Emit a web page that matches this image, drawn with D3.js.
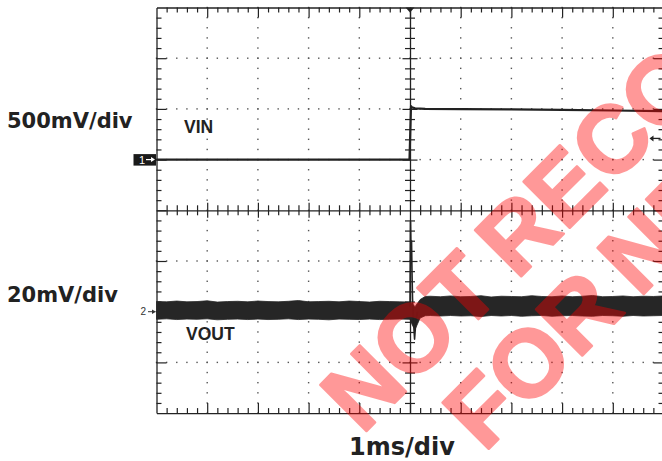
<!DOCTYPE html>
<html>
<head>
<meta charset="utf-8">
<script src="https://cdn.jsdelivr.net/npm/d3@7"></script>
<style>
html,body{margin:0;padding:0;background:#fff;overflow:hidden;}
svg{display:block;}
</style>
</head>
<body>
<svg id="chart" width="662" height="461"></svg>
<script>
// ---------- DATA ----------
// Time base: ms relative to trigger (1 ms/div, 10 divisions)
const timeDomain = [-5, 5];
// CH1 (VIN) in mV relative to channel-1 marker, 500 mV/div
const vinT = [-5, -0.02, -0.01, 0.02, 0.04, 0.1, 0.3, 1, 2, 3, 4, 5];
const vinV = [0, 0, 0, 528, 515, 506, 501, 498, 495, 490, 484, 478];
// CH2 (VOUT) noise envelope in mV relative to channel-2 marker, 20 mV/div
const voutT = [-5.0,-4.8,-4.6,-4.4,-4.2,-4.0,-3.8,-3.6,-3.4,-3.2,-3.0,-2.8,-2.6,-2.4,-2.2,-2.0,-1.8,-1.6,-1.4,-1.2,-1.0,-0.8,-0.6,-0.4,-0.2,
  0, 0.05, 0.1, 0.2, 0.3,
  0.4,0.6,0.8,1.0,1.2,1.4,1.6,1.8,2.0,2.2,2.4,2.6,2.8,3.0,3.2,3.4,3.6,3.8,4.0,4.2,4.4,4.6,4.8,5.0];
const voutTop = [4.0,3.9,4.2,3.9,4.0,4.3,3.8,4.0,4.1,3.9,4.2,4.0,3.9,4.1,4.4,3.9,4.0,4.1,3.9,4.2,4.0,3.8,4.1,4.0,3.9,
  3.8, 3.0, 2.0, 4.8, 6.0,
  6.1,5.9,6.2,5.9,6.0,6.3,5.8,6.1,6.0,5.9,6.3,6.0,5.9,6.2,5.9,6.1,6.4,5.9,6.0,6.2,5.9,6.1,6.0,6.2];
const voutBottom = [-3.0,-2.8,-3.1,-2.9,-3.0,-2.8,-3.2,-3.0,-2.9,-3.1,-2.9,-3.1,-3.0,-2.8,-3.1,-2.9,-3.0,-3.2,-2.9,-3.0,-3.1,-2.9,-3.1,-3.0,-2.9,
  -3.0, -5.5, -7.0, -2.5, -1.6,
  -1.5,-1.7,-1.5,-1.7,-1.6,-1.9,-1.5,-1.7,-1.5,-1.8,-1.6,-1.5,-1.8,-1.6,-1.5,-1.7,-1.8,-1.5,-1.6,-1.8,-1.5,-1.7,-1.6,-1.5];
// CH2 load-step transient
const spikeT = [0, 0.01, 0.02, 0.03, 0.04, 0.05, 0.07, 0.09, 0.1, 0.12, 0.15];
const spikeV = [2, 35.5, 24, 28, 15, 5, -4, -10.8, -8, -3, 0];
// Labels
const scaleLabels = ["500mV/div", "20mV/div"];
const timeLabel = "1ms/div";
const traceLabels = ["VIN", "VOUT"];
const watermark = ["NOT RECOMMENDED", "FOR NEW DESIGNS"];
const trigLevel = 209; // mV, CH1 trigger level

// ---------- LAYOUT ----------
const svg = d3.select("#chart");
const L = 156.5, T = 7.5, DIV = 50.7;
const R = L + 10 * DIV, B = T + 8 * DIV;
const cx = L + 5 * DIV, cy = T + 4 * DIV;
const ink = "#222";

const x = d3.scaleLinear().domain(timeDomain).range([L, R]);
const y1 = d3.scaleLinear().domain([-2500, 1500]).range([B, T]);
const y2 = d3.scaleLinear().domain([-40, 120]).range([B, T]);
const gx = d3.scaleLinear().domain([-5, 5]).range([L, R]);
const gy = d3.scaleLinear().domain([-4, 4]).range([B, T]);

const xMinor = d3.range(-25, 26).map(i => i / 5);
const yMinor = d3.range(-20, 21).map(i => i / 5);
const xMajor = d3.range(-4, 5).filter(v => v !== 0);
const yMajor = d3.range(-3, 4).filter(v => v !== 0);

// dotted grid
const dots = svg.append("g").attr("fill", "#555");
xMajor.forEach(gv => {
  yMinor.forEach(yv => {
    dots.append("rect").attr("x", gx(gv) - 0.7).attr("y", gy(yv) - 0.7).attr("width", 1.4).attr("height", 1.4);
  });
});
yMajor.forEach(gv => {
  xMinor.forEach(xv => {
    dots.append("rect").attr("x", gx(xv) - 0.7).attr("y", gy(gv) - 0.7).attr("width", 1.4).attr("height", 1.4);
  });
});

function styleAxis(g) {
  g.select(".domain").attr("stroke", ink).attr("stroke-width", 1.3);
  g.selectAll(".tick line").attr("stroke", ink).attr("stroke-width", 1.2);
  g.selectAll(".tick text").remove();
}
function isMajor(v) { return Math.abs(v - Math.round(v)) < 1e-6; }

const xTicks = xMinor.filter(v => v > -5 && v < 5);
const yTicks = yMinor.filter(v => v > -4 && v < 4);

function borderX(pos, dir) {
  const g = svg.append("g").attr("transform", `translate(0,${pos})`);
  const ax = (dir === "top" ? d3.axisTop(gx) : d3.axisBottom(gx)).tickValues(xTicks).tickSizeOuter(0).tickFormat("");
  g.call(ax);
  g.selectAll(".tick line").attr("y2", d => (dir === "top" ? 1 : -1) * (isMajor(d) ? 10 : 5));
  styleAxis(g);
}
function borderY(pos, dir) {
  const g = svg.append("g").attr("transform", `translate(${pos},0)`);
  const ax = (dir === "left" ? d3.axisLeft(gy) : d3.axisRight(gy)).tickValues(yTicks).tickSizeOuter(0).tickFormat("");
  g.call(ax);
  g.selectAll(".tick line").attr("x2", d => (dir === "left" ? 1 : -1) * (isMajor(d) ? 10 : 5));
  styleAxis(g);
}
borderX(T, "top");
borderX(B, "bottom");
borderY(L, "left");
borderY(R, "right");

function centerX() {
  const g = svg.append("g").attr("transform", `translate(0,${cy})`);
  g.call(d3.axisBottom(gx).tickValues(xTicks.filter(v => v !== 0)).tickSizeOuter(0).tickFormat(""));
  g.selectAll(".tick line").attr("y1", d => -(isMajor(d) ? 7.5 : 5)).attr("y2", d => (isMajor(d) ? 7.5 : 5));
  styleAxis(g);
}
function centerY() {
  const g = svg.append("g").attr("transform", `translate(${cx},0)`);
  g.call(d3.axisLeft(gy).tickValues(yTicks.filter(v => v !== 0)).tickSizeOuter(0).tickFormat(""));
  g.selectAll(".tick line").attr("x1", d => -(isMajor(d) ? 7.5 : 5)).attr("x2", d => (isMajor(d) ? 7.5 : 5));
  styleAxis(g);
}
centerX();
centerY();

// Trigger position marker (top)
svg.append("path")
  .attr("d", `M${x(0) - 4.5},${T} L${x(0) + 4.5},${T} L${x(0)},${T + 5} Z`)
  .attr("fill", ink);

// Trigger level arrow (right)
const ty = y1(trigLevel);
svg.append("path").attr("d", `M${R - 3},${ty} L${R - 13},${ty}`).attr("stroke", ink).attr("stroke-width", 1.3);
svg.append("path").attr("d", `M${R - 14},${ty} L${R - 10},${ty - 3} L${R - 10},${ty + 3} Z`).attr("fill", ink);

// CH1 marker
const m1 = y1(0);
svg.append("rect").attr("x", 133.5).attr("y", m1 - 5.5).attr("width", 22.5).attr("height", 11.5).attr("fill", "#1a1a1a");
svg.append("text").attr("x", 139).attr("y", m1 + 4).attr("fill", "#fff")
  .attr("font-family", "Liberation Sans, Arial, sans-serif").attr("font-size", 11).text("1");
svg.append("path").attr("d", `M${146},${m1} L${153},${m1}`).attr("stroke", "#fff").attr("stroke-width", 1.2);
svg.append("path").attr("d", `M${155},${m1} L${151},${m1 - 2.5} L${151},${m1 + 2.5} Z`).attr("fill", "#fff");

// CH2 marker
const m2 = y2(0);
svg.append("text").attr("x", 140.5).attr("y", m2 + 3.5).attr("fill", "#333")
  .attr("font-family", "Liberation Sans, Arial, sans-serif").attr("font-size", 10).text("2");
svg.append("path").attr("d", `M${148},${m2} L${154},${m2}`).attr("stroke", "#333").attr("stroke-width", 1);
svg.append("path").attr("d", `M${156},${m2} L${152},${m2 - 2.2} L${152},${m2 + 2.2} Z`).attr("fill", "#333");

// ---------- TRACES ----------
const vinData = vinT.map((t, i) => ({t, v: vinV[i]}));
svg.append("path").datum(vinData)
  .attr("d", d3.line().x(d => x(d.t)).y(d => y1(d.v)))
  .attr("fill", "none").attr("stroke", ink).attr("stroke-width", 2.2).attr("stroke-linejoin", "round");

const voutData = voutT.map((t, i) => ({t, hi: voutTop[i], lo: voutBottom[i]}));
svg.append("path").datum(voutData)
  .attr("d", d3.area().x(d => x(d.t)).y0(d => y2(d.lo)).y1(d => y2(d.hi)))
  .attr("fill", "#262626").attr("stroke", "#262626").attr("stroke-width", 0.8);

const spikeData = spikeT.map((t, i) => ({t, v: spikeV[i]}));
svg.append("path").datum(spikeData)
  .attr("d", d3.line().x(d => x(d.t)).y(d => y2(d.v)))
  .attr("fill", "none").attr("stroke", ink).attr("stroke-width", 1.6).attr("stroke-linejoin", "round");

// ---------- LABELS ----------
svg.append("text").attr("x", 7).attr("y", 128)
  .attr("font-family", "DejaVu Sans, sans-serif").attr("font-weight", "bold").attr("font-size", 21)
  .attr("fill", ink).text(scaleLabels[0]);
svg.append("text").attr("x", 7).attr("y", 301.5)
  .attr("font-family", "DejaVu Sans, sans-serif").attr("font-weight", "bold").attr("font-size", 21)
  .attr("fill", ink).text(scaleLabels[1]);
svg.append("text").attr("x", 349).attr("y", 455)
  .attr("font-family", "DejaVu Sans, sans-serif").attr("font-weight", "bold").attr("font-size", 24)
  .attr("fill", ink).text(timeLabel);
svg.append("text").attr("x", 184).attr("y", 133.3)
  .attr("font-family", "Liberation Sans, Arial, sans-serif").attr("font-weight", "bold").attr("font-size", 17.5)
  .attr("fill", ink).text(traceLabels[0]);
svg.append("text").attr("x", 186).attr("y", 340)
  .attr("font-family", "Liberation Sans, Arial, sans-serif").attr("font-weight", "bold").attr("font-size", 17.5)
  .attr("fill", ink).text(traceLabels[1]);

// ---------- WATERMARK ----------
const wm = svg.append("g").attr("transform", "rotate(-45)").attr("opacity", 0.4)
  .attr("font-family", "Liberation Sans, Arial, sans-serif").attr("font-weight", "bold").attr("font-size", 95)
  .attr("word-spacing", -8)
  .attr("fill", "#ff0000").attr("stroke", "#ff0000").attr("stroke-width", 2.5).attr("stroke-linejoin", "round");
wm.append("text").attr("x", -52).attr("y", 564).text(watermark[0]);
wm.append("text").attr("x", 22).attr("y", 663).text(watermark[1]);
</script>
</body>
</html>
